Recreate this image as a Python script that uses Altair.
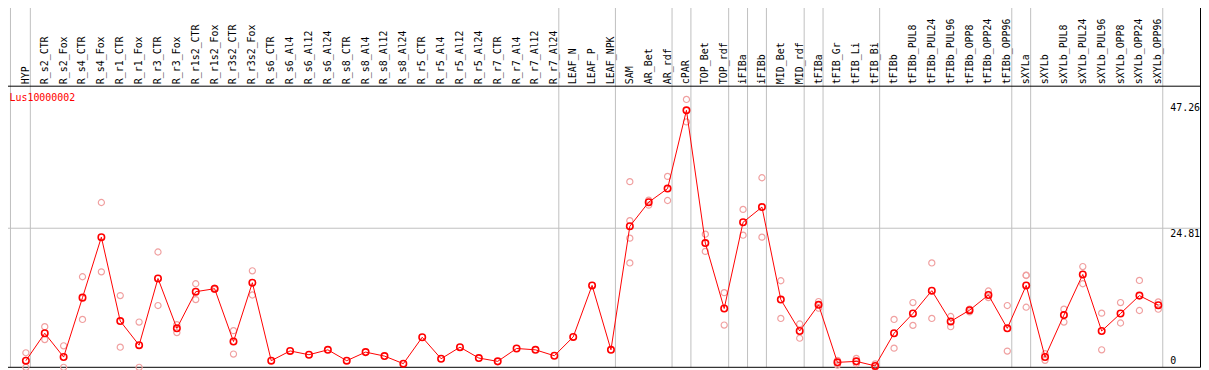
import altair as alt
import pandas as pd

gene = "Lus10000002"

names = [
    "HYP", "R_s2_CTR", "R_s2_Fox", "R_s4_CTR", "R_s4_Fox", "R_r1_CTR", "R_r1_Fox",
    "R_r3_CTR", "R_r3_Fox", "R_r1s2_CTR", "R_r1s2_Fox", "R_r3s2_CTR", "R_r3s2_Fox",
    "R_s6_CTR", "R_s6_Al4", "R_s6_Al12", "R_s6_Al24", "R_s8_CTR", "R_s8_Al4",
    "R_s8_Al12", "R_s8_Al24", "R_r5_CTR", "R_r5_Al4", "R_r5_Al12", "R_r5_Al24",
    "R_r7_CTR", "R_r7_Al4", "R_r7_Al12", "R_r7_Al24", "LEAF_N", "LEAF_P", "LEAF_NPK",
    "SAM", "AR_Bet", "AR_rdf", "cPAR", "TOP_Bet", "TOP_rdf", "iFIBa", "iFIBb",
    "MID_Bet", "MID_rdf", "tFIBa", "tFIB_Gr", "tFIB_Li", "tFIB_Bi", "tFIBb",
    "tFIBb_PUL8", "tFIBb_PUL24", "tFIBb_PUL96", "tFIBb_OPP8", "tFIBb_OPP24",
    "tFIBb_OPP96", "sXYLa", "sXYLb", "sXYLb_PUL8", "sXYLb_PUL24", "sXYLb_PUL96",
    "sXYLb_OPP8", "sXYLb_OPP24", "sXYLb_OPP96",
]

means = [
    1.18, 6.07, 1.83, 12.43, 23.22, 8.25, 3.95, 15.85, 6.95, 13.49, 14.02, 4.60, 15.09, 1.18, 2.92,
    2.24, 3.12, 1.18, 2.71, 2.00, 0.65, 5.36, 1.53, 3.59, 1.65, 1.06, 3.36, 3.12, 2.06, 5.42,
    14.61, 3.12, 25.16, 29.46, 31.88, 45.85, 22.16, 10.49, 25.87, 28.58, 12.08, 6.48, 11.14, 0.88, 1.06,
    0.25, 6.07, 9.60, 13.67, 8.19, 10.19, 12.90, 6.95, 14.61, 1.83, 9.31, 16.56, 6.48, 9.60, 12.79, 11.08,
]

reps = [
    [2.59, 0.0], [7.25, 4.95], [3.83, 0.0], [16.15, 8.54], [29.4, 17.03], [12.79, 3.59],
    [8.07, 0.0], [20.57, 11.02], [7.6, 6.19], [14.91, 12.08], [14.1, 13.9], [6.54, 2.36],
    [17.21, 12.9],
    [], [], [], [], [], [], [], [], [], [], [], [], [], [], [], [], [], [], [],
    [33.12, 26.16, 23.04, 18.62], [29.82, 28.93], [34.06, 29.76], [47.79, 43.78],
    [23.75, 20.68], [13.32, 7.54], [28.17, 23.57], [33.82, 23.22], [15.44, 8.72],
    [7.72, 5.19], [11.73, 10.55], [1.24, 0.4], [1.59, 0.65], [0.6, 0.0],
    [8.54, 3.42], [11.55, 7.48], [18.62, 8.72], [9.07, 7.25], [10.37, 9.9],
    [13.61, 12.43], [11.02, 2.89], [16.44, 16.38, 10.72], [2.42, 1.24],
    [10.37, 8.07], [17.97, 14.91], [9.66, 3.12], [11.55, 7.9], [15.5, 10.14],
    [11.67, 10.37],
]

# group separators (in column-index units)
boundaries = [-0.8158, 0.2368, 28.2368, 31.2368, 34.2368, 35.2368, 37.2368, 38.2368,
              39.2368, 41.2368, 42.2368, 45.2368, 52.2368, 53.2368, 60.2368]

ytick_values = [0, 24.81, 47.26]
ytick_labels = ["0", "24.81", "47.26"]
grid_values = [24.81]

df_mean = pd.DataFrame({"i": list(range(len(names))), "name": names, "mean": means})
df_rep = pd.DataFrame([(i, v) for i, rs in enumerate(reps) for v in rs], columns=["i", "v"])
df_b = pd.DataFrame({"b": boundaries})
df_g = pd.DataFrame({"v": grid_values})
df_yt = pd.DataFrame({"v": ytick_values, "label": ytick_labels})
df_title = pd.DataFrame({"t": [gene]})

FONT = "DejaVu Sans Mono"
W, H = 1209, 370
PX = 19.0          # pixels per column
X0 = 26.0          # pixel of column 0
PY = 140.0 / 24.81 # pixels per unit
Y0 = 368.5         # pixel of value 0

xs = alt.Scale(domain=[-X0 / PX, (W - X0) / PX], nice=False, zero=False)
ys = alt.Scale(domain=[(Y0 - H) / PY, Y0 / PY], nice=False, zero=False)

vgrid = alt.Chart(df_b).mark_rule(color="#c0c0c0", strokeWidth=1).encode(
    x=alt.X("b:Q", scale=xs, axis=None),
    y=alt.value(0), y2=alt.value(368.5),
)
hgrid = alt.Chart(df_g).mark_rule(color="#c0c0c0", strokeWidth=1).encode(
    y=alt.Y("v:Q", scale=ys, axis=None),
    x=alt.value(1), x2=alt.value(1208),
)
frame = alt.Chart(df_title).mark_rect(fill=None, stroke="black", strokeWidth=1).encode(
    x=alt.value(1.5), x2=alt.value(1208.5), y=alt.value(0.5), y2=alt.value(368.5),
)
sep = alt.Chart(df_title).mark_rule(color="black", strokeWidth=1).encode(
    x=alt.value(1), x2=alt.value(1208), y=alt.value(85.5),
)
rep_pts = alt.Chart(df_rep).mark_point(
    shape="circle", filled=False, color="#f0a0a0", size=38, strokeWidth=1.2, opacity=1
).encode(
    x=alt.X("i:Q", scale=xs, axis=None),
    y=alt.Y("v:Q", scale=ys, axis=None),
)
line = alt.Chart(df_mean).mark_line(color="#ff0000", strokeWidth=1).encode(
    x=alt.X("i:Q", scale=xs, axis=None),
    y=alt.Y("mean:Q", scale=ys, axis=None),
)
mean_pts = alt.Chart(df_mean).mark_point(
    shape="circle", filled=False, color="#ff0000", size=42, strokeWidth=1.6, opacity=1
).encode(
    x=alt.X("i:Q", scale=xs, axis=None),
    y=alt.Y("mean:Q", scale=ys, axis=None),
)
header = alt.Chart(df_mean).mark_text(
    angle=270, align="left", baseline="middle", font=FONT, fontSize=10, color="black"
).encode(
    x=alt.X("i:Q", scale=xs, axis=None),
    y=alt.value(83.5),
    text="name:N",
)
title = alt.Chart(df_title).mark_text(
    align="left", baseline="middle", font=FONT, fontSize=10, color="#ff0000"
).encode(x=alt.value(9.5), y=alt.value(97.5), text="t:N")

ylab_top = alt.Chart(df_yt).transform_filter("datum.v > 0").mark_text(
    align="left", baseline="top", font=FONT, fontSize=10, color="black", dy=1
).encode(
    x=alt.value(1178),
    y=alt.Y("v:Q", scale=ys, axis=None),
    text="label:N",
)
ylab_zero = alt.Chart(df_yt).transform_filter("datum.v == 0").mark_text(
    align="left", baseline="bottom", font=FONT, fontSize=10, color="black", dy=-1
).encode(
    x=alt.value(1178),
    y=alt.Y("v:Q", scale=ys, axis=None),
    text="label:N",
)

chart = alt.layer(
    vgrid, hgrid, frame, sep, rep_pts, line, mean_pts, header, title, ylab_top, ylab_zero
).properties(
    width=W, height=H,
    padding={"left": -8, "top": -8, "right": 0, "bottom": 0},
    autosize=alt.AutoSizeParams(type="none"),
    background="white",
).configure_view(stroke=None)

chart.save("out.html", embed_options={"renderer": "svg", "actions": False})
